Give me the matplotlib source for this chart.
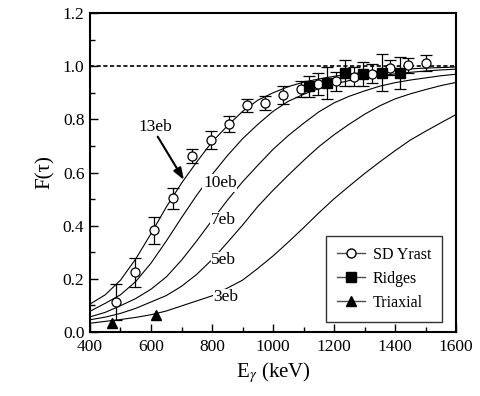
import numpy as np
import matplotlib
matplotlib.use('Agg')
import matplotlib.pyplot as plt
from matplotlib.lines import Line2D

plt.rcParams['font.family'] = ['Liberation Serif', 'DejaVu Serif']
plt.rcParams['mathtext.fontset'] = 'stix'

# data
# SD yrast (open circles)
yrast_e = [485, 548, 610, 673, 733, 796, 855, 914, 974, 1032, 1091, 1147, 1207, 1265, 1324, 1383, 1442, 1501]
yrast_f = [0.113, 0.224, 0.382, 0.503, 0.662, 0.723, 0.782, 0.853, 0.862, 0.891, 0.913, 0.933, 0.943, 0.961, 0.972, 0.994, 1.003, 1.011]
yrast_err = [0.066, 0.055, 0.05, 0.04, 0.026, 0.035, 0.03, 0.025, 0.027, 0.033, 0.03, 0.04, 0.035, 0.035, 0.035, 0.028, 0.028, 0.03]

# ridges (filled squares)
ridge_e = [1117, 1178, 1237, 1296, 1357, 1416]
ridge_f = [0.925, 0.938, 0.975, 0.971, 0.975, 0.975]
ridge_err = [0.04, 0.06, 0.05, 0.045, 0.07, 0.06]

# triaxial (filled triangles)
triax_e = [471, 615]
triax_f = [0.033, 0.064]

# calculated F(tau) curves for several quadrupole moments
curve_e = [400, 450, 500, 550, 600, 650, 700, 750, 800, 850, 900, 950, 1000,
           1050, 1100, 1150, 1200, 1250, 1300, 1350, 1400, 1450, 1500, 1550, 1600]
f_13eb = [0.105, 0.14, 0.195, 0.275, 0.37, 0.47, 0.56, 0.64, 0.715, 0.775, 0.83, 0.872, 0.90,
          0.923, 0.94, 0.952, 0.962, 0.970, 0.977, 0.982, 0.987, 0.990, 0.993, 0.995, 0.997]
f_10eb = [0.078, 0.108, 0.14, 0.19, 0.259, 0.342, 0.43, 0.515, 0.592, 0.663, 0.727, 0.781, 0.83,
          0.868, 0.894, 0.916, 0.933, 0.946, 0.956, 0.964, 0.971, 0.977, 0.982, 0.986, 0.989]
f_7eb = [0.057, 0.074, 0.099, 0.126, 0.161, 0.207, 0.27, 0.343, 0.42, 0.495, 0.565, 0.627, 0.687,
         0.739, 0.785, 0.828, 0.862, 0.887, 0.907, 0.925, 0.938, 0.948, 0.956, 0.964, 0.97]
f_5eb = [0.046, 0.056, 0.07, 0.089, 0.113, 0.137, 0.172, 0.217, 0.272, 0.336, 0.402, 0.472, 0.533,
         0.59, 0.645, 0.697, 0.742, 0.782, 0.819, 0.851, 0.877, 0.896, 0.912, 0.927, 0.939]
f_3eb = [0.033, 0.04, 0.047, 0.055, 0.065, 0.079, 0.098, 0.117, 0.136, 0.165, 0.195, 0.239, 0.286,
         0.338, 0.392, 0.448, 0.501, 0.549, 0.596, 0.64, 0.682, 0.722, 0.755, 0.787, 0.818]

curve_labels = ['10eb', '7eb', '5eb', '3eb']
label_pos = [(826, 0.56), (837, 0.42), (839, 0.27), (845, 0.13)]

fig = plt.figure(figsize=(4.8, 3.96), dpi=100)
ax = fig.add_axes([0.1875, 0.1616, 0.7625, 0.8054])

for f in [f_13eb, f_10eb, f_7eb, f_5eb, f_3eb]:
    ax.plot(curve_e, f, color='black', lw=0.8, zorder=2)

ax.axhline(1.0, color='black', lw=1.2, ls=(0, (2.5, 1.5)), zorder=2)

# labels with white background to cut the curves
for txt, (x, y) in zip(curve_labels, label_pos):
    ax.text(x, y, txt, ha='center', va='center', fontsize=12.5, zorder=3,
            bbox=dict(facecolor='white', edgecolor='none', pad=0.5))

ax.text(613, 0.77, '13eb', ha='center', va='center', fontsize=12.5, zorder=3)
ax.annotate('', xy=(708, 0.572), xytext=(622, 0.735), zorder=3,
            arrowprops=dict(arrowstyle='-|>,head_width=0.25,head_length=0.7',
                            color='black', lw=1.5, shrinkA=0, shrinkB=0))

ek = dict(ecolor='black', elinewidth=0.9, capsize=4.5, capthick=0.9, ls='none', zorder=4)
ax.errorbar(yrast_e, yrast_f, yerr=yrast_err, fmt='o', ms=6.5, mfc='white', mec='black',
            mew=0.9, **ek)
ax.errorbar(ridge_e, ridge_f, yerr=ridge_err, fmt='s', ms=6.5, mfc='black', mec='black', **ek)
ax.plot(triax_e, triax_f, '^', ms=7.5, color='black', ls='none', zorder=4)

handles = [
    Line2D([], [], color='0.3', lw=1.0, marker='o', ms=6.5, mfc='white', mec='black'),
    Line2D([], [], color='0.3', lw=1.0, marker='s', ms=6.5, mfc='black', mec='black'),
    Line2D([], [], color='0.3', lw=1.0, marker='^', ms=7.5, mfc='black', mec='black'),
]
leg = ax.legend(handles, ['SD Yrast', 'Ridges', 'Triaxial'], loc='lower right',
                bbox_to_anchor=(0.962, 0.031), borderaxespad=0, fontsize=11.5,
                frameon=True, fancybox=False, edgecolor='black', handlelength=1.7,
                handletextpad=0.5, labelspacing=0.5, borderpad=0.7)
leg.get_frame().set_linewidth(1.0)

ax.set_xlim(400, 1600)
ax.set_ylim(0.0, 1.2)
ax.set_xticks(np.arange(400, 1601, 200))
ax.set_xticks(np.arange(500, 1600, 200), minor=True)
ax.set_yticks(np.arange(0, 1.21, 0.2))
ax.set_yticks(np.arange(0.1, 1.2, 0.2), minor=True)
ax.set_yticklabels(['0.0', '0.2', '0.4', '0.6', '0.8', '1.0', '1.2'])
ax.tick_params(which='both', direction='in', top=False, right=False, labelsize=12.5, width=1.0)
ax.tick_params(which='major', length=6)
ax.tick_params(axis='x', which='major', pad=5)
ax.tick_params(axis='y', which='major', pad=4)
ax.tick_params(which='minor', length=3.5)
for s in ax.spines.values():
    s.set_linewidth(1.5)

ax.set_xlabel(r'E$_\gamma$ (keV)', fontsize=15, labelpad=4)
ax.set_ylabel('F(τ)', fontsize=15, labelpad=6)

fig.savefig('out.png', dpi=100)
